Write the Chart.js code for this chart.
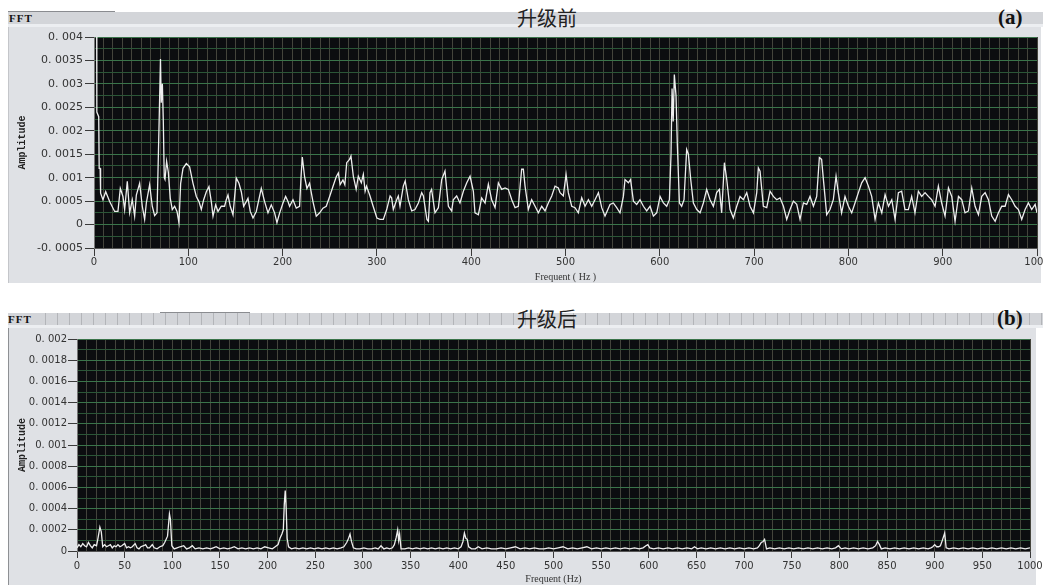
<!DOCTYPE html>
<html>
<head>
<meta charset="utf-8">
<script src="https://cdn.jsdelivr.net/npm/chart.js@4.4.1/dist/chart.umd.min.js"></script>
<style>
  html, body { margin: 0; padding: 0; background: #fff; }
  #page { position: relative; width: 1043px; height: 585px; overflow: hidden; background: #fff; }
  .bar { position: absolute; left: 8px; width: 1035px; height: 12px; background: #d3d5d9; }
  .strip { position: absolute; left: 8px; width: 1035px; height: 3px; background: #eceef1; }
  .panel { position: absolute; background: #dfe1e5; }
  .fft { position: absolute; font: bold 11px "Liberation Serif", serif; line-height: 12px; color: #111; letter-spacing: 1px; }
  .title { position: absolute; font: 20px "Noto Sans CJK SC", sans-serif; line-height: 20px; color: #222; transform: translateX(-50%); white-space: nowrap; }
  .tag { position: absolute; font: bold 21px "Liberation Serif", serif; line-height: 21px; color: #111; }
  canvas { position: absolute; left: 0; }
</style>
</head>
<body>
<div id="page">
  <!-- panel (a) frame -->
  <div class="bar" style="top:12px;"></div>
  <div style="position:absolute;left:8px;top:11px;width:107px;height:1px;background:#8a8c90;"></div>
  <div class="strip" style="top:24px;"></div>
  <div class="panel" style="left:8px;top:27px;width:1032px;height:256px;border-left:1px solid #c4c6ca;"></div>
  <div class="fft" style="left:9px;top:12px;">FFT</div>
  <div class="title" style="left:547px;top:8px;">升级前</div>
  <div class="tag" style="left:998px;top:7px;">(a)</div>

  <!-- panel (b) frame -->
  <div class="bar" style="top:313px;background:repeating-linear-gradient(90deg,#d3d5d9 0 11px,#b3b5b9 11px 12px);background-position:2px 0;"></div>
  <div style="position:absolute;left:160px;top:312px;width:90px;height:1px;background:#8a8c90;"></div>
  <div class="strip" style="top:325px;"></div>
  <div class="panel" style="left:8px;top:328px;width:1027px;height:257px;border-left:1px solid #8e9094;"></div>
  <div class="fft" style="left:8px;top:313px;background:#d3d5d9;padding-right:2px;">FFT</div>
  <div class="title" style="left:547px;top:309px;">升级后</div>
  <div class="tag" style="left:997px;top:308px;">(b)</div>

  <canvas id="chartBefore" width="1043" height="290" style="top:0px;"></canvas>
  <canvas id="chartAfter" width="1043" height="295" style="top:290px;"></canvas>
</div>

<script>
// Spectrum before the upgrade: [frequency Hz, amplitude]
const spectrumBefore = [
  [0,0.0045],[2.8,0.0045],[3,0.0024],[5,0.0023],[5.5,0.0012],[6.5,0.0012],[7,0.00067],[9.5,0.00053],
  [12.4,0.0007],[16.6,0.00049],[21.9,0.00028],[25.4,0.00028],[27.9,0.00077],[30.7,0.0006],[32.5,0.00032],
  [35.3,0.00092],[37.8,0.00025],[40.6,0.00053],[43.1,0.00018],[44.9,0.00063],[48.4,0.00088],[51.2,0.00039],
  [53.7,0.00011],[55.5,0.00046],[59,0.00085],[61.8,0.00039],[64.3,0.00019],[66.8,0.00025],[68.2,0.00142],
  [69.5,0.0026],[70.5,0.00353],[71.3,0.0026],[72.5,0.003],[73.5,0.0022],[74.5,0.001],[75.3,0.00096],
  [77,0.00135],[78.8,0.00112],[80.9,0.00056],[83,0.00032],[85.5,0.00039],[88,0.00028],[90.1,0.00004],
  [91.9,0.00088],[94.4,0.0012],[97.9,0.0013],[101.4,0.00123],[105,0.00088],[108.5,0.0006],[111.3,0.00049],
  [113.8,0.00032],[116.3,0.00053],[119.1,0.0007],[121.9,0.00081],[124.4,0.00049],[126.2,0.00018],[129,0.00042],
  [131.5,0.00028],[135,0.00039],[138.5,0.00039],[140.3,0.00053],[142.1,0.00063],[144.5,0.00039],[147.4,0.00021],
  [150.9,0.00099],[153.7,0.00088],[156.2,0.0007],[158.7,0.00039],[161.5,0.00049],[163.3,0.00056],[165.7,0.00028],
  [168.6,0.00014],[172.1,0.00028],[177.4,0.00077],[180.9,0.00049],[184.5,0.00025],[188,0.00042],[191.5,0.00025],
  [194,0.00004],[196.9,0.00025],[200.4,0.00046],[203.2,0.0006],[205.7,0.00049],[207.4,0.00039],[211,0.00053],
  [214.5,0.00035],[218,0.00039],[219.5,0.001],[220.9,0.00144],[223.3,0.00102],[225.8,0.00077],[228.6,0.00088],
  [232.2,0.00049],[235.7,0.00018],[239.3,0.00025],[242.8,0.00035],[246.3,0.00039],[249.9,0.0006],[253.4,0.00081],
  [256.9,0.00102],[259.1,0.0011],[261,0.00085],[264,0.00095],[266,0.00085],[268,0.00132],[271,0.00139],
  [272.5,0.00146],[275,0.00103],[278,0.00075],[280.3,0.00103],[283.5,0.00089],[285.6,0.00107],[287.5,0.00071],
  [289,0.00082],[292.7,0.00061],[296,0.00039],[300,0.00014],[303.3,0.00011],[306.8,0.00011],[310.4,0.00032],
  [314,0.00061],[315.6,0.00057],[317.4,0.00032],[321,0.00053],[322.7,0.00061],[324.5,0.00039],[328,0.00082],
  [330,0.00093],[333.3,0.00053],[336.9,0.00029],[340.4,0.00032],[344,0.00046],[347.5,0.00068],[349.3,0.00061],
  [353,0.00011],[354.6,0.00007],[356.3,0.00068],[358,0.00075],[361.6,0.00025],[365.2,0.00036],[368.7,0.00096],
  [372.2,0.00114],[375.8,0.00039],[379.3,0.00029],[381,0.00053],[384.6,0.00061],[388.1,0.00046],[391.7,0.00071],
  [395.3,0.00089],[398.8,0.00103],[402.3,0.00071],[404,0.00025],[407.6,0.00021],[411.1,0.00057],[414.7,0.00046],
  [418.2,0.00086],[421.7,0.00053],[425.3,0.00036],[428.8,0.00089],[432.3,0.00075],[435.9,0.00078],[439.4,0.00075],
  [443,0.00053],[446.5,0.00036],[450,0.00039],[453.5,0.00118],[455.3,0.00118],[457.1,0.00082],[460.6,0.00032],
  [464.1,0.00053],[467.7,0.00039],[471.2,0.00025],[474.8,0.00039],[478.3,0.00029],[481.8,0.00046],[485.4,0.00061],
  [488.9,0.00082],[492.4,0.00078],[494.2,0.00068],[497.7,0.00061],[500.6,0.00107],[503,0.00068],[506.6,0.00039],
  [510.1,0.00036],[513.6,0.00025],[517.2,0.00057],[520.7,0.00039],[524.3,0.00053],[527.8,0.00039],[531.3,0.00053],
  [534.9,0.00068],[538.4,0.00036],[541.9,0.00018],[547.2,0.00043],[550.7,0.00046],[554.3,0.00036],[557.8,0.00025],
  [561.4,0.0006],[563.1,0.00096],[566.7,0.00089],[569,0.00096],[572,0.0005],[575.5,0.00043],[579,0.00053],
  [582.6,0.00039],[586.1,0.00029],[589.7,0.00039],[593.2,0.00018],[596.7,0.00025],[600.3,0.0006],[603.8,0.00046],
  [607.3,0.00039],[610.2,0.00053],[611.9,0.0015],[613,0.0029],[614.2,0.0022],[615.4,0.0032],[617.2,0.00275],
  [618.6,0.0017],[620.8,0.00046],[623.2,0.00039],[625.7,0.00053],[628.5,0.0016],[630.3,0.0015],[632.8,0.00096],
  [635.6,0.00046],[639.2,0.00032],[642.7,0.00025],[646.2,0.00046],[649.7,0.00075],[653.3,0.00053],[656.8,0.00039],
  [660.3,0.00068],[663.2,0.00075],[665.6,0.00025],[668.5,0.00132],[671,0.00096],[674.5,0.00032],[678,0.00014],
  [681.6,0.00039],[685.1,0.0006],[688.6,0.00053],[692.2,0.00068],[695.7,0.00039],[699.3,0.00025],[702.8,0.00068],
  [704.5,0.00121],[706.3,0.00114],[709.8,0.00039],[713.4,0.00036],[716.9,0.00071],[720.4,0.0006],[724,0.00053],
  [727.5,0.00057],[731.1,0.00039],[734.6,0.00011],[738.1,0.00032],[741.7,0.0005],[745.2,0.00043],[748.7,0.00011],
  [752.3,0.00046],[755.8,0.00043],[759.3,0.0006],[762.9,0.00039],[766.4,0.0006],[769.2,0.00143],[771.6,0.00139],
  [773.4,0.00098],[777,0.00021],[780.5,0.00032],[784,0.00053],[786.9,0.00103],[789.3,0.00068],[792.8,0.00025],
  [796.4,0.0006],[800,0.00039],[803.5,0.00025],[807,0.00046],[810.6,0.00068],[814.1,0.00089],[817.7,0.001],
  [821.2,0.00082],[824.7,0.0006],[828.3,0.00011],[831.8,0.00046],[835.4,0.00025],[838.9,0.00064],[842.5,0.00039],
  [846,0.00053],[849.5,0.00011],[853,0.00068],[856.5,0.00071],[860,0.00032],[863.6,0.00032],[867.1,0.0006],
  [870.6,0.00025],[874.2,0.00071],[877.7,0.0006],[881.3,0.00068],[884.8,0.0006],[888.3,0.00053],[891.9,0.00039],
  [895.4,0.00082],[898.9,0.00046],[902.5,0.00018],[906.1,0.00078],[909.6,0.0006],[913.1,0.00007],[916.7,0.0006],
  [920.2,0.00053],[923.7,0.00025],[927.3,0.00029],[930.8,0.00078],[934.3,0.00039],[937.9,0.00021],[941.4,0.0006],
  [945,0.00068],[948.5,0.00053],[952,0.00018],[955.6,0.00007],[959.1,0.00025],[962.6,0.00039],[966.2,0.00039],
  [969.7,0.00064],[973.2,0.00053],[976.8,0.00039],[980.3,0.00032],[983.8,0.00011],[987.4,0.00032],[990.9,0.00046],
  [994.4,0.00032],[998,0.00043],[1000,0.00025]
];

// Spectrum after the upgrade: [frequency Hz, amplitude]
const spectrumAfter = [
  [0,0.00003],[2,0.00006],[4,0.00004],[6,0.00007],[8,0.00005],[10,0.00004],[12,0.00008],[14,0.00005],
  [16,0.00003],[18,0.00006],[20.5,0.00005],[22,0.00012],[24,0.000225],[25.5,0.00018],[27,0.00004],[29,0.00006],
  [31,0.00004],[33,0.00005],[35,0.00006],[37,0.00003],[39,0.00005],[41,0.00004],[43,0.00006],[45,0.00004],
  [47,0.00005],[50,0.00007],[52,0.00003],[54,0.00004],[56,0.00003],[58,0.00004],[61,0.00007],[63,0.00003],
  [65,0.00002],[67,0.00004],[70,0.00005],[72,0.00006],[74,0.00003],[76,0.00003],[79,0.00006],[81,0.00003],
  [84,0.00002],[87,0.00004],[90,0.00005],[92,0.00008],[95,0.00014],[97,0.00035],[98,0.0003],[99.5,0.00005],
  [102,0.00002],[105,0.00003],[108,0.00004],[112,0.00005],[115,0.00002],[118,0.00003],[121,0.00005],[124,0.00002],
  [128,0.00003],[132,0.00002],[136,0.00003],[140,0.00002],[143,0.00003],[146,0.00004],[150,0.00002],[154,0.00003],
  [158,0.00002],[162,0.00003],[165,0.00004],[169,0.00002],[173,0.00003],[177,0.00002],[181,0.00003],[185,0.00002],
  [189,0.00003],[193,0.00002],[197,0.00004],[201,0.00003],[205,0.00002],[208,0.00004],[211,0.00006],[213,0.00012],
  [215,0.00016],[216.5,0.0002],[217.5,0.00044],[218.5,0.00057],[219.5,0.0004],[220.5,0.00012],[222,0.00004],
  [225,0.00002],[229,0.00003],[233,0.00002],[237,0.00003],[241,0.00002],[245,0.00003],[249,0.00002],[253,0.00003],
  [257,0.00002],[261,0.00003],[265,0.00002],[269,0.00003],[273,0.00002],[277,0.00003],[280,0.00004],[283,0.00008],
  [285,0.00012],[286.5,0.00016],[288,0.00009],[290,0.00003],[293,0.00002],[297,0.00002],[301,0.00003],[305,0.00002],
  [309,0.00002],[313,0.00003],[316,0.00002],[319,0.00005],[322,0.00002],[325,0.00003],[328,0.00002],[331,0.00003],
  [333,0.00006],[335,0.00013],[336.5,0.0002],[337.5,0.0001],[338.5,0.00016],[340,0.00002],[344,0.00002],[348,0.00003],
  [352,0.00002],[356,0.00003],[360,0.00002],[364,0.00003],[368,0.00002],[372,0.00003],[376,0.00002],[380,0.00003],
  [384,0.00002],[388,0.00003],[392,0.00002],[396,0.00003],[400,0.00002],[403,0.00004],[405,0.00009],[406.5,0.00017],
  [408,0.00012],[409.5,0.00011],[411,0.00004],[414,0.00002],[418,0.00002],[421,0.00004],[425,0.00002],[430,0.00003],
  [435,0.00002],[440,0.00002],[445,0.00003],[450,0.00002],[455,0.00003],[460,0.00004],[465,0.00002],[470,0.00003],
  [475,0.00002],[480,0.00003],[485,0.00002],[490,0.00002],[495,0.00003],[500,0.00002],[505,0.00003],[510,0.00004],
  [515,0.00002],[520,0.00003],[525,0.00002],[530,0.00003],[535,0.00004],[540,0.00002],[545,0.00003],[550,0.00002],
  [555,0.00003],[560,0.00002],[565,0.00003],[570,0.00002],[575,0.00003],[580,0.00002],[585,0.00003],[590,0.00002],
  [594,0.00003],[597,0.00005],[599,0.00006],[601,0.00003],[605,0.00002],[610,0.00003],[615,0.00002],[620,0.00003],
  [625,0.00002],[630,0.00003],[635,0.00002],[640,0.00003],[645,0.00002],[648,0.00004],[651,0.00002],[655,0.00003],
  [660,0.00002],[665,0.00003],[670,0.00002],[675,0.00003],[680,0.00002],[685,0.00003],[690,0.00002],[695,0.00003],
  [700,0.00002],[705,0.00003],[710,0.00002],[714,0.00003],[716,0.00005],[718,0.00008],[720,0.00009],[721.5,0.00011],
  [723.5,0.00002],[727,0.00003],[732,0.00002],[737,0.00003],[742,0.00002],[747,0.00003],[752,0.00002],[757,0.00003],
  [762,0.00002],[767,0.00003],[772,0.00002],[777,0.00003],[782,0.00002],[787,0.00003],[792,0.00002],[796,0.00003],
  [799,0.00005],[802,0.00002],[806,0.00003],[810,0.00002],[815,0.00003],[820,0.00002],[825,0.00003],[830,0.00002],
  [835,0.00003],[838,0.00005],[840,0.00009],[842,0.00006],[844,0.00002],[848,0.00003],[853,0.00002],[858,0.00003],
  [863,0.00002],[868,0.00003],[873,0.00002],[878,0.00003],[883,0.00002],[888,0.00003],[893,0.00002],[896,0.00003],
  [898,0.00004],[900,0.00006],[902,0.00004],[904,0.00004],[906,0.00005],[908,0.0001],[910.5,0.00017],[912,0.00003],
  [915,0.00002],[920,0.00003],[925,0.00002],[930,0.00003],[935,0.00002],[940,0.00003],[945,0.00002],[950,0.00003],
  [955,0.00002],[960,0.00003],[965,0.00002],[970,0.00003],[975,0.00002],[980,0.00003],[985,0.00002],[990,0.00003],
  [995,0.00002],[1000,0.00003]
];

// Axis tick values and their printed labels
const yTicksBefore  = [-0.0005, 0, 0.0005, 0.001, 0.0015, 0.002, 0.0025, 0.003, 0.0035, 0.004];
const yLabelsBefore = ['-0. 0005', '0', '0. 0005', '0. 001', '0. 0015', '0. 002', '0. 0025', '0. 003', '0. 0035', '0. 004'];
const xTicksBefore  = [0, 100, 200, 300, 400, 500, 600, 700, 800, 900, 1000];
const xLabelsBefore = ['0', '100', '200', '300', '400', '500', '600', '700', '800', '900', '1000'];

const yTicksAfter  = [0, 0.0002, 0.0004, 0.0006, 0.0008, 0.001, 0.0012, 0.0014, 0.0016, 0.0018, 0.002];
const yLabelsAfter = ['0', '0. 0002', '0. 0004', '0. 0006', '0. 0008', '0. 001', '0. 0012', '0. 0014', '0. 0016', '0. 0018', '0. 002'];
const xTicksAfter  = [0, 50, 100, 150, 200, 250, 300, 350, 400, 450, 500, 550, 600, 650, 700, 750, 800, 850, 900, 950, 1000];
const xLabelsAfter = ['0', '50', '100', '150', '200', '250', '300', '350', '400', '450', '500', '550', '600', '650', '700', '750', '800', '850', '900', '950', '1000'];

// Labelled ticks plus unlabelled grid ticks in between
function gridTicks(values, labels, between) {
  const out = [];
  for (let i = 0; i < values.length; i++) {
    out.push({ value: values[i], txt: labels[i], isMajor: true });
    if (i < values.length - 1) {
      const step = (values[i + 1] - values[i]) / (between + 1);
      for (let k = 1; k <= between; k++) out.push({ value: values[i] + step * k, txt: '', isMajor: false });
    }
  }
  return out;
}

const plotBackground = {
  id: 'plotBackground',
  beforeDraw(chart) {
    const { ctx, chartArea: a } = chart;
    ctx.save();
    ctx.fillStyle = '#0c0d10';
    ctx.fillRect(a.left, a.top, a.right - a.left, a.bottom - a.top);
    ctx.restore();
  }
};

function makeChart(id, spec) {
  const canvas = document.getElementById(id);
  const W = canvas.width, H = canvas.height;
  const xTicks = gridTicks(spec.xValues, spec.xLabels, spec.xBetween);
  const yTicks = gridTicks(spec.yValues, spec.yLabels, spec.yBetween);
  const a = spec.area;
  return new Chart(canvas, {
    type: 'line',
    data: {
      datasets: [{
        data: spec.points.map(p => ({ x: p[0], y: p[1] })),
        borderColor: '#eeeeee',
        borderWidth: 1.3,
        pointRadius: 0,
        tension: 0,
        fill: false
      }]
    },
    options: {
      responsive: false,
      animation: false,
      events: [],
      layout: { padding: { left: 0, top: a.top, right: W - a.right, bottom: H - a.bottom - spec.xHeight } },
      plugins: { legend: { display: false }, tooltip: { enabled: false } },
      scales: {
        x: {
          type: 'linear', min: spec.xValues[0], max: spec.xValues[spec.xValues.length - 1],
          afterBuildTicks: s => { s.ticks = xTicks.map(t => Object.assign({}, t)); },
          afterFit: s => { s.height = spec.xHeight; s.paddingLeft = 0; s.paddingRight = 0; },
          border: { display: true, color: '#555', width: 1 },
          grid: {
            color: '#44443c', lineWidth: 1, drawTicks: true, tickLength: spec.xTickLen,
            tickColor: c => (c.tick && c.tick.isMajor) ? '#3a3a3a' : 'rgba(0,0,0,0)'
          },
          ticks: {
            autoSkip: false, maxRotation: 0, minRotation: 0, padding: spec.xTickPad,
            color: '#333', font: { family: 'DejaVu Sans', size: spec.xFont },
            callback: (v, i, ticks) => ticks[i].txt
          },
          title: {
            display: true, text: spec.xTitle, color: '#333',
            font: { family: 'Liberation Serif', size: 10 }, padding: { top: 0, bottom: 0 }
          }
        },
        y: {
          type: 'linear', min: spec.yValues[0], max: spec.yValues[spec.yValues.length - 1],
          afterBuildTicks: s => { s.ticks = yTicks.map(t => Object.assign({}, t)); },
          afterFit: s => { s.width = a.left; s.paddingTop = 0; s.paddingBottom = 0; },
          border: { display: true, color: '#777', width: 1 },
          grid: {
            color: c => (c.tick && c.tick.isMajor) ? '#3a744a' : '#2b5637',
            lineWidth: 1, drawTicks: true, tickLength: 9,
            tickColor: c => (c.tick && c.tick.isMajor) ? '#3a3a3a' : 'rgba(0,0,0,0)'
          },
          ticks: {
            autoSkip: false, padding: spec.yTickPad,
            color: '#333', font: { family: 'DejaVu Sans', size: spec.yFont },
            callback: (v, i, ticks) => ticks[i].txt
          },
          title: {
            display: true, text: 'Amplitude', color: '#222',
            font: { family: 'Liberation Mono', size: 10, weight: 'bold' }, padding: { top: 16, bottom: 0 }
          }
        }
      }
    },
    plugins: [plotBackground]
  });
}

makeChart('chartBefore', {
  points: spectrumBefore,
  area: { left: 94, top: 37, right: 1037, bottom: 248 },
  xHeight: 35, xTickLen: 8, xTickPad: 0, xFont: 10, yFont: 11, yTickPad: 2,
  xValues: xTicksBefore, xLabels: xLabelsBefore, xBetween: 9,
  yValues: yTicksBefore, yLabels: yLabelsBefore, yBetween: 1,
  xTitle: 'Frequent ( Hz )'
});

makeChart('chartAfter', {
  points: spectrumAfter,
  area: { left: 77, top: 49, right: 1030, bottom: 261 },
  xHeight: 34, xTickLen: 7, xTickPad: 2, xFont: 10, yFont: 10, yTickPad: 1,
  xValues: xTicksAfter, xLabels: xLabelsAfter, xBetween: 4,
  yValues: yTicksAfter, yLabels: yLabelsAfter, yBetween: 1,
  xTitle: 'Frequent (Hz)'
});
</script>
</body>
</html>
